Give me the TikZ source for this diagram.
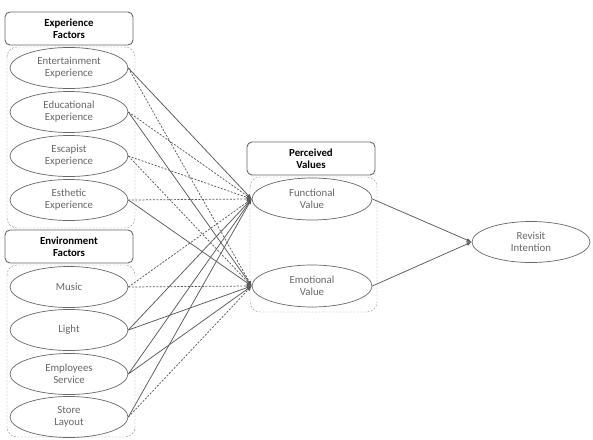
\documentclass[tikz,border=0pt]{standalone}
\usepackage{fontspec}
\setmainfont{Carlito}
\usetikzlibrary{arrows.meta,shapes.geometric}

\begin{document}
\begin{tikzpicture}[x=1pt,y=-1pt,
  construct/.style={draw=black!60,line width=0.7pt,ellipse,minimum width=118pt,minimum height=41pt,
    inner sep=0pt,align=center,text=black!60,font=\fontsize{10.8}{12}\selectfont},
  header/.style={draw=black!60,line width=0.9pt,rounded corners=5pt,minimum width=128pt,
    minimum height=33pt,align=center,font=\bfseries\fontsize{10.8}{12}\selectfont},
  group/.style={draw=black!45,dash pattern=on 2pt off 1.5pt,rounded corners=10pt},
  sig/.style={draw=black!65,line width=0.75pt,-{Latex[length=5pt,width=4pt]}},
  nonsig/.style={sig,dash pattern=on 2pt off 1.5pt},
]
\useasboundingbox (0,0) rectangle (593,439);

% experience factors
\draw[group] (7,47) rectangle (135,228);
\node[header] (expH) at (69,28.5) {Experience\\Factors};
\node[construct] (ent) at (69,68) {Entertainment\\Experience};
\node[construct] (edu) at (69,112) {Educational\\Experience};
\node[construct] (esc) at (69,156) {Escapist\\Experience};
\node[construct] (est) at (69,200) {Esthetic\\Experience};

% environment factors
\draw[group] (7,265) rectangle (135,437);
\node[header] (envH) at (69,246.5) {Environment\\Factors};
\node[construct] (mus) at (69,287) {Music};
\node[construct] (lig) at (69,330) {Light};
\node[construct] (emp) at (69,374) {Employees\\Service};
\node[construct] (sto) at (69,417) {Store\\Layout};

% perceived values
\draw[group] (250,177) rectangle (377,312);
\node[header] (pvH) at (311,158.5) {Perceived\\Values};
\node[construct,minimum width=120pt,minimum height=42pt] (fun) at (312,199) {Functional\\Value};
\node[construct,minimum width=120pt,minimum height=42pt] (emo) at (312,286) {Emotional\\Value};

\node[construct] (rev) at (531,242) {Revisit\\Intention};

% paths
\draw[sig] (ent.east) -- (fun.west);
\draw[nonsig] (ent.east) -- (emo.west);
\draw[nonsig] (edu.east) -- (fun.west);
\draw[sig] (edu.east) -- (emo.west);
\draw[nonsig] (esc.east) -- (fun.west);
\draw[nonsig] (esc.east) -- (emo.west);
\draw[nonsig] (est.east) -- (fun.west);
\draw[sig] (est.east) -- (emo.west);

\draw[nonsig] (mus.east) -- (fun.west);
\draw[nonsig] (mus.east) -- (emo.west);
\draw[sig] (lig.east) -- (fun.west);
\draw[sig] (lig.east) -- (emo.west);
\draw[sig] (emp.east) -- (fun.west);
\draw[sig] (emp.east) -- (emo.west);
\draw[sig] (sto.east) -- (fun.west);
\draw[nonsig] (sto.east) -- (emo.west);

\draw[sig] (fun.east) -- (rev.west);
\draw[sig] (emo.east) -- (rev.west);

\end{tikzpicture}
\end{document}
